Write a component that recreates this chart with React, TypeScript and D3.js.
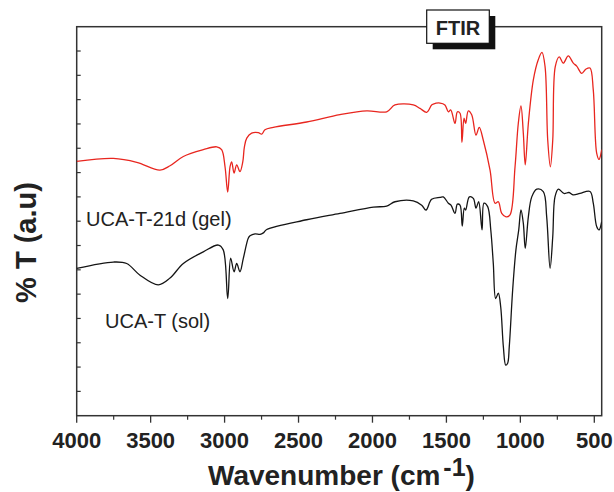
import React from "react";
import * as d3 from "d3";

// Wavenumber (cm-1) and %T (arbitrary units)
const gelWavenumber = [4000, 3752, 3594, 3437, 3369, 3279, 3144, 3053, 3020, 2997, 2979, 2963, 2952, 2936, 2918, 2896, 2877, 2866, 2850, 2817, 2772, 2749, 2727, 2671, 2445, 2220, 2039, 1904, 1848, 1724, 1679, 1633, 1600, 1589, 1543, 1510, 1487, 1471, 1442, 1426, 1408, 1395, 1381, 1370, 1352, 1329, 1300, 1278, 1251, 1205, 1171, 1149, 1126, 1097, 1070, 1036, 1014, 996, 980, 967, 946, 912, 879, 854, 833, 815, 797, 781, 764, 737, 710, 676, 642, 619, 585, 556, 529, 507, 484, 468, 450];
const gelT = [52.3, 52.9, 52.1, 50.5, 51.4, 53.3, 54.7, 55.3, 54.7, 51.2, 46.0, 51.2, 52.2, 49.9, 51.6, 50.2, 52.2, 55.3, 57.1, 58.1, 58.2, 57.9, 58.8, 59.3, 60.4, 61.9, 62.7, 62.5, 63.9, 63.9, 63.2, 62.4, 63.9, 64.1, 64.3, 63.9, 62.5, 62.9, 60.1, 62.5, 62.2, 56.2, 61.2, 60.1, 62.7, 61.9, 57.7, 59.3, 56.7, 50.5, 43.7, 44.0, 41.6, 40.9, 41.3, 51.2, 60.1, 63.7, 58.1, 51.6, 60.1, 69.1, 73.2, 74.7, 71.8, 56.7, 51.2, 56.7, 71.8, 73.8, 72.5, 74.0, 72.5, 71.9, 70.4, 71.3, 71.5, 67.0, 54.0, 52.7, 54.7];

const solWavenumber = [4000, 3752, 3662, 3572, 3448, 3369, 3279, 3144, 3042, 3009, 2979, 2959, 2936, 2918, 2896, 2873, 2840, 2828, 2794, 2760, 2738, 2715, 2445, 2220, 1994, 1904, 1848, 1724, 1667, 1638, 1600, 1543, 1521, 1487, 1469, 1442, 1426, 1408, 1393, 1379, 1370, 1345, 1318, 1300, 1282, 1259, 1246, 1221, 1200, 1183, 1167, 1149, 1133, 1115, 1099, 1086, 1075, 1052, 1030, 1011, 996, 980, 967, 946, 923, 889, 845, 822, 799, 781, 766, 743, 705, 671, 642, 597, 529, 507, 484, 468, 450];
const solT = [30.3, 31.6, 31.3, 28.9, 26.9, 28.3, 31.3, 33.7, 35.1, 34.1, 24.1, 32.4, 29.6, 31.3, 29.6, 32.4, 36.5, 37.0, 37.4, 37.3, 37.6, 38.3, 40.3, 41.6, 42.9, 43.1, 44.0, 44.2, 43.3, 42.3, 44.5, 44.9, 45.0, 43.7, 43.3, 41.6, 43.5, 43.3, 39.0, 42.7, 42.3, 45.0, 44.7, 42.7, 44.0, 38.2, 43.7, 43.0, 38.2, 31.3, 24.1, 25.2, 22.4, 14.2, 10.4, 10.8, 14.2, 25.9, 34.1, 38.2, 42.3, 39.6, 34.4, 40.9, 45.0, 46.6, 46.1, 40.9, 30.3, 36.8, 45.0, 46.6, 45.7, 45.9, 45.4, 45.7, 46.1, 43.7, 38.9, 38.2, 39.9];

const xMajorTicks = [4000, 3500, 3000, 2500, 2000, 1500, 1000, 500];
const xMinorTicks = [3750, 3250, 2750, 2250, 1750, 1250, 750];
const yTicks = [5, 10, 15, 20, 25, 30, 35, 40, 45, 50, 55, 60, 65, 70, 75];

const seriesLabels = ["UCA-T-21d (gel)", "UCA-T (sol)"];

const W = 614;
const H = 492;
const left = 76.7;
const right = 601.7;
const top = 26.7;
const bottom = 415.7;

export default function App() {
  const x = d3.scaleLinear().domain([4000, 450]).range([left, right]);
  const y = d3.scaleLinear().domain([0, 80]).range([bottom, top]);

  const line = d3
    .line<[number, number]>()
    .x((d) => x(d[0]))
    .y((d) => y(d[1]))
    .curve(d3.curveCatmullRom.alpha(0.5));

  const gel = gelWavenumber.map((w, i) => [w, gelT[i]] as [number, number]);
  const sol = solWavenumber.map((w, i) => [w, solT[i]] as [number, number]);

  const axisColor = "#333";
  const textColor = "#222";
  const font = "'Liberation Sans', Arial, Helvetica, sans-serif";

  return (
    <svg
      width={W}
      height={H}
      style={{ position: "absolute", left: 0, top: 0, background: "#fff" }}
      fontFamily={font}
    >
      <rect x={0} y={0} width={W} height={H} fill="#fff" />
      <defs>
        <clipPath id="plotclip">
          <rect x={left} y={top} width={right - left} height={bottom - top} />
        </clipPath>
      </defs>

      {/* frame */}
      <rect
        x={left}
        y={top}
        width={right - left}
        height={bottom - top}
        fill="none"
        stroke={axisColor}
        strokeWidth={1.5}
      />

      {/* y ticks (inward) */}
      {yTicks.map((t) => (
        <line key={"y" + t} x1={left} x2={left + 4} y1={y(t)} y2={y(t)} stroke={axisColor} strokeWidth={1.2} />
      ))}

      {/* x ticks */}
      {xMajorTicks.map((t) => (
        <line key={"xM" + t} x1={x(t)} x2={x(t)} y1={bottom} y2={bottom + 7} stroke={axisColor} strokeWidth={1.3} />
      ))}
      {xMinorTicks.map((t) => (
        <line key={"xm" + t} x1={x(t)} x2={x(t)} y1={bottom} y2={bottom + 4} stroke={axisColor} strokeWidth={1.2} />
      ))}
      {xMajorTicks.map((t) => (
        <text
          key={"xl" + t}
          x={x(t)}
          y={448.3}
          textAnchor="middle"
          fontSize={22}
          fontWeight="bold"
          fill={textColor}
        >
          {t}
        </text>
      ))}

      {/* spectra */}
      <g clipPath="url(#plotclip)">
        <path d={line(gel) || ""} fill="none" stroke="#e8261f" strokeWidth={1.3} />
        <path d={line(sol) || ""} fill="none" stroke="#151515" strokeWidth={1.3} />
      </g>

      {/* sample labels */}
      <text x={86} y={226} fontSize={20} fill={textColor}>
        {seriesLabels[0]}
      </text>
      <text x={105} y={328.3} fontSize={20} fill={textColor}>
        {seriesLabels[1]}
      </text>

      {/* FTIR box */}
      <rect x={432.7} y={16} width={62.6} height={33.3} fill="#111" />
      <rect x={426.7} y={10} width={62.6} height={33.3} fill="#fff" stroke="#111" strokeWidth={1.2} />
      <text x={458} y={35} textAnchor="middle" fontSize={20} fontWeight="bold" fill={textColor}>
        FTIR
      </text>

      {/* axis titles */}
      <text x={208} y={485} fontSize={28} fontWeight="bold" fill={textColor}>
        Wavenumber (cm
        <tspan fontSize={25} dx={3} dy={-9}>-1</tspan>
        <tspan fontSize={28} dy={9}>)</tspan>
      </text>
      <text
        transform="translate(36,242.5) rotate(-90)"
        textAnchor="middle"
        fontSize={29}
        fontWeight="bold"
        fill={textColor}
      >
        % T (a.u)
      </text>
    </svg>
  );
}
